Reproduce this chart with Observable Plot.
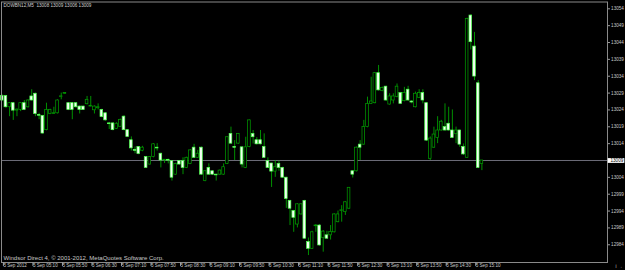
<!DOCTYPE html>
<html>
<head>
<meta charset="utf-8">
<script src="https://cdn.jsdelivr.net/npm/d3@7"></script>
<script src="https://cdn.jsdelivr.net/npm/@observablehq/plot@0.6"></script>
<style>
  html, body { margin: 0; padding: 0; background: #000; }
  #chart svg { display: block; }
</style>
</head>
<body>
<div id="chart"></div>
<script>
// ---- data (M5 bars, 5 Sep 2012 04:30 .. 15:20) ----
const symbol = "DOWBN12,M5";
const copyright = "Windsor Direct 4, \u00A9 2001-2012, MetaQuotes Software Corp.";

const open = [
  13028.1,13028.1,13024.8,13026,13023.8,13024,13026,13024.8,13028,13028.8,
  13022.5,13022.2,13018,13022.8,13022.8,13023,13027.8,13028.8,13026,13026,
  13026,13025,13025,13025.7,13025,13023.9,13024.5,13024,13023,13020,
  13020,13018.4,13019,13022,13018,13015,13012.1,13013,13011.9,13010,
  13007.8,13010,13012.8,13011,13009,13009.2,13008.8,13004.8,13008.8,13008.8,
  13006.8,13008,13012.8,13009.8,13012.8,13002.9,13006.8,13005.8,13004.8,13004.8,
  13004.8,13008,13016.9,13013,13014,13012.9,13006.8,13013,13016.9,13015,
  13015,13013,13008.8,13008.1,13005.7,13008,13006.8,13003.9,12997,12994,
  12990,12993,12997,12984.8,12982.8,12989.5,12989.7,12986,12986.8,12986.8,
  12987.7,12990.7,12994,12993.7,12994.7,13005.8,13005.8,13013.7,13013.7,13018.9,
  13025.8,13026,13034.9,13029.6,13030.9,13025.6,13026.8,13027.8,13029,13026.6,
  13030,13026.5,13024.8,13027.6,13029,13026,13009.5,13012.8,13015.7,13017.9,
  13018.9,13019.9,13017.9,13016.9,13017.9,13013,13009.8,13052,13042.8,13031.9,
  13008
];
const high = [
  13028.5,13028.3,13026.2,13026.2,13024.3,13026.2,13026.8,13027,13030,13029,
  13023,13022.4,13026,13024.2,13024.8,13027,13029,13029,13026.2,13026.1,
  13026.2,13025.2,13025.1,13028,13028,13025.2,13025.8,13024.2,13023.2,13020.3,
  13020.2,13020.2,13021.3,13022.3,13018.2,13016,13013,13013.1,13013.2,13010.2,
  13010.2,13014,13014,13011.2,13009.3,13009.4,13009,13008.2,13009,13009.8,
  13010,13012.2,13013.8,13012,13013,13006,13008,13006,13004.9,13006.2,
  13008,13016,13018.9,13014.9,13017,13013,13015.9,13021,13017.9,13015.8,
  13017.9,13016.9,13009.8,13008.2,13009,13008.8,13007,13004,12997.2,12994.2,
  12996.2,12996.2,12997.2,12986,12988,12990,12990,12988.2,12988,12989.7,
  12993.2,12994,12995.6,12996.8,13001,13006,13013,13014.9,13020.9,13027.8,
  13033.7,13035,13037.2,13030.8,13031,13028.8,13028.8,13031.7,13029.2,13030.7,
  13031,13026.8,13029.3,13030,13030,13026.2,13016,13018.9,13022,13020.9,
  13025.8,13024.8,13024,13018.9,13018,13013.9,13051.2,13052.2,13047,13032.7,
  13009
];
const low = [
  13026.5,13024.5,13022,13020.9,13022,13023.5,13023.8,13024.5,13026.6,13022,
  13021.1,13016.8,13017.8,13022.6,13022.7,13022.8,13027,13028.6,13023.8,13021.1,
  13024.5,13022.8,13023.9,13025.5,13024.9,13022.8,13024,13021.7,13020.7,13018.2,
  13017.8,13018.2,13018.8,13017.8,13015.8,13011.8,13011,13010.7,13011.6,13006.6,
  13007.6,13009.8,13011.8,13006.8,13008.1,13008,13002.9,13004.6,13007.6,13004.8,
  13006.6,13007.8,13009.6,13009.6,13004.6,13002.7,13004.6,13004.6,13002.9,13004.6,
  13004.6,13007.8,13013.8,13009,13013.8,13006.8,13006.6,13012.8,13013.9,13013.6,
  13013.6,13009.6,13006.6,13001,13004,13005.8,13003.7,12994.8,12989.7,12987.7,
  12989,12992.8,12985.6,12980.8,12982.6,12987.7,12983.6,12981.8,12985.6,12985.4,
  12987.5,12990.5,12990.7,12992.7,12994.5,13003.8,13005.6,13009,13013.5,13018.7,
  13025.6,13025.8,13029.6,13029.4,13026.6,13025.4,13025.8,13027.6,13025.6,13026.4,
  13026.6,13025.8,13024.6,13027.4,13025.8,13014.7,13009,13012.6,13014,13017.7,
  13017.7,13017.7,13015.5,13014,13012.9,13010.5,13009.6,13041.8,13032.7,13006.6,
  13006
];
const close = [
  13026.8,13024.8,13026,13023.8,13024.1,13026,13024,13026.8,13026.8,13022.8,
  13022.3,13017,13024,13024,13023,13026.8,13028,13028.8,13024,13024,
  13024.8,13024,13024,13027,13025.1,13025,13024.8,13021.9,13020.9,13019.9,
  13018,13019.9,13021,13018,13016,13012.6,13012,13010.9,13012.8,13006.8,
  13010,13013.8,13012.6,13009,13009.2,13009,13003.9,13008,13007.8,13006.8,
  13009.8,13012,13009.8,13011,13004.8,13005.8,13004.8,13004.8,13004.6,13006,
  13007,13015.9,13014,13012.9,13016.9,13007.8,13012.9,13020.9,13015.9,13013.8,
  13013.8,13009.8,13006.8,13005.7,13007,13006.8,13003.9,12997.6,12994.7,12992,
  12996,12996,12985.8,12982.8,12987.7,12989.7,12983.8,12987.9,12985.8,12987.8,
  12993,12993,12994.1,12996.6,13000.9,13004.8,13012.8,13012.8,13018.9,13025.8,
  13026.5,13034.9,13029.8,13030.5,13026.8,13028,13028,13030.9,13025.8,13029,
  13026.8,13026.2,13028.8,13029,13026.8,13014.9,13015.5,13016.7,13017.9,13020.5,
  13017.9,13017.9,13015.7,13017.9,13013.7,13010.8,13051,13044.1,13033.9,13006.8,
  13009
];
const timeLabels = [
  "5 Sep 2012","5 Sep 05:10","5 Sep 05:50","5 Sep 06:30","5 Sep 07:10","5 Sep 07:50",
  "5 Sep 08:30","5 Sep 09:10","5 Sep 09:50","5 Sep 10:30","5 Sep 11:10","5 Sep 11:50",
  "5 Sep 12:30","5 Sep 13:10","5 Sep 13:50","5 Sep 14:30","5 Sep 15:10"
];
const barsPerLabel = 8;
const priceTicks = [12984,12989,12994,12999,13004,13009,13014,13019,13024,13029,13034,13039,13044,13049,13054];

// ---- build table ----
const rows = open.map((o, i) => ({i, o, h: high[i], l: low[i], c: close[i]}));
const last = rows[rows.length - 1];
const title = `${symbol}  ${last.o} ${last.h} ${last.l} ${last.c}`;
const tickIdx = timeLabels.map((_, k) => k * barsPerLabel);

const xDom = [-0.19, 164.04];
const yDom = [12978.74, 13056.02];
const minBody = 0.22;

const chart = Plot.plot({
  width: 625,
  height: 270,
  marginTop: 1.5,
  marginLeft: 1,
  marginRight: 18,
  marginBottom: 8,
  style: {background: "#000", color: "#c8c8c8", fontFamily: "'Liberation Sans', Arial, sans-serif", fontSize: "4.6px"},
  x: {type: "linear", domain: xDom, axis: null},
  y: {type: "linear", domain: yDom, axis: null},
  marks: [
    Plot.ruleY([last.c], {stroke: "#6c6c78", strokeWidth: 1}),
    Plot.ruleX(rows, {x: "i", y1: "l", y2: "h", stroke: "#00b400", strokeWidth: 0.8}),
    Plot.rect(rows, {
      x1: d => d.i - 0.36,
      x2: d => d.i + 0.36,
      y1: "o",
      y2: d => Math.abs(d.c - d.o) < minBody ? d.o + (d.c >= d.o ? minBody : -minBody) : d.c,
      fill: d => d.c < d.o ? "#f2fff2" : "#000",
      stroke: d => d.c < d.o ? "#4cff4c" : "#00a000",
      strokeWidth: 0.7
    }),
    Plot.frame({stroke: "#8a8a8a", strokeWidth: 1}),
    Plot.axisX(tickIdx, {
      anchor: "bottom",
      tickSize: 4,
      tickPadding: -3,
      textAnchor: "start",
      dx: 1.2,
      tickFormat: d => timeLabels[d / barsPerLabel],
      fill: "#c8c8c8",
      stroke: "#9a9a9a",
      fontSize: 4.6
    }),
    Plot.axisY(priceTicks, {
      anchor: "right",
      tickSize: 2,
      tickPadding: 1.6,
      textAnchor: "start",
      tickFormat: d => String(d),
      fill: "#c8c8c8",
      stroke: "#9a9a9a",
      fontSize: 4.6
    }),
    Plot.ruleY([last.c], {x1: xDom[1] + 0.19, x2: xDom[1] + 4.7, stroke: "#ffffff", strokeWidth: 4.8}),
    Plot.text([last.c], {x: xDom[1], y: d => d, text: d => String(d), dx: 3, textAnchor: "start", fill: "#000", fontSize: 4.6}),
    Plot.text([title], {frameAnchor: "top-left", dx: 2, dy: 1.8, lineAnchor: "top", textAnchor: "start", fill: "#d0d0d0", fontSize: 4.6}),
    Plot.text([copyright], {frameAnchor: "bottom-left", dx: 2, dy: -2.6, lineAnchor: "bottom", textAnchor: "start", fill: "#c8c8c8", fontSize: 6})
  ]
});
document.getElementById("chart").appendChild(chart);
</script>
</body>
</html>
